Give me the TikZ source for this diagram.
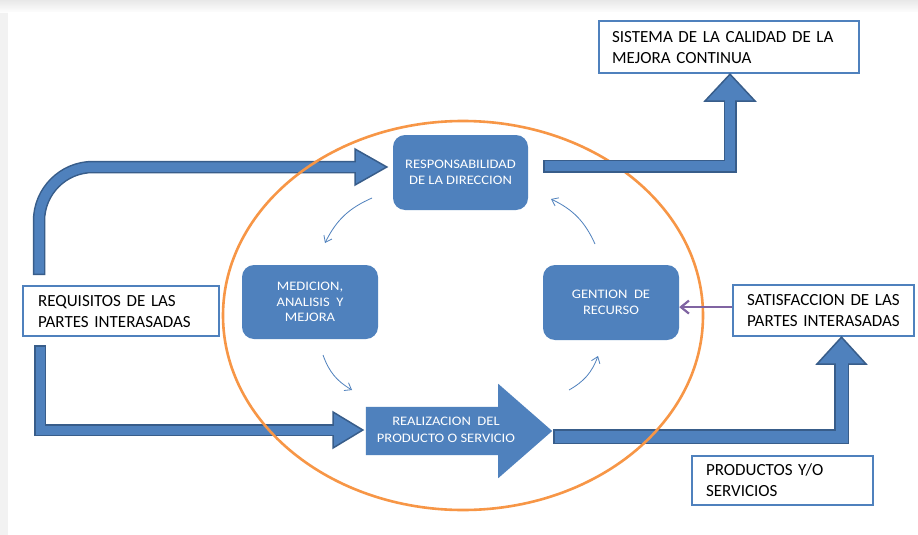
\documentclass[tikz,border=0pt]{standalone}
\usepackage{fontspec}
\setmainfont{Carlito}
\newfontfamily\widefont[FakeStretch=1.12]{Carlito}
\usetikzlibrary{calc,arrows.meta}

\definecolor{accent}{HTML}{4F81BD}
\definecolor{accentdark}{HTML}{385D8A}
\definecolor{ringorange}{HTML}{F79646}
\definecolor{linkpurple}{HTML}{8064A2}

\tikzset{
  stage/.style={fill=accent, rounded corners=12pt, text=white, align=center,
    font=\widefont\fontsize{13}{15.5}\selectfont, inner sep=0pt},
  stagetext/.style={text=white, align=center,
    font=\widefont\fontsize{13}{17}\selectfont, inner sep=0pt},
  tbox/.style={draw=accent, line width=2.2pt, fill=white, align=left,
    anchor=north west, inner ysep=0pt, font=\fontsize{17}{21}\selectfont},
  shaftdark/.style={draw=accentdark, line width=#1},
  shaftlight/.style={draw=accent, line width=#1},
  headtri/.style={fill=accent, draw=accentdark, line width=1.5pt, line join=miter},
  cycle arrow/.style={draw=accent, line width=0.8pt,
    -{Straight Barb[length=6pt,width=9pt]}, bend right=20},
  feedback/.style={draw=linkpurple, line width=2.2pt,
    -{Straight Barb[length=8pt,width=13pt]}},
  ring/.style={draw=ringorange, line width=2.6pt}
}

\begin{document}
\begin{tikzpicture}[x=1pt,y=-1pt]
\useasboundingbox (0,0) rectangle (918,535);

% page with a soft shadow along the top and left edges
\fill[black!5] (0,0) rectangle (918,535);
\shade[top color=black!9, bottom color=white] (0,0) rectangle (918,13);
\fill[white] (8,12) rectangle (918,535);

% process stages
\node[stage, minimum width=135pt, minimum height=75pt] (resp) at (460.5,172.5)
  {RESPONSABILIDAD\\DE LA DIRECCION};
\node[stage, minimum width=136pt, minimum height=74pt] (med) at (310,302)
  {MEDICION,\\ANALISIS\ \ Y\\MEJORA};
\node[stage, minimum width=136pt, minimum height=75pt] (gen) at (611,302.5)
  {GENTION\ \ DE\\RECURSO};

% product realisation as a block arrow
\node[minimum width=132pt, minimum height=48pt, inner sep=0pt] (real) at (432,431) {};
\fill[accent] (real.north west) -- (real.north east) -- ($(real.north east)+(0,-23)$)
  -- ($(real.east)+(54,0)$) -- ($(real.south east)+(0,23)$) -- (real.south east)
  -- (real.south west) -- cycle;
\node[stagetext] (realtxt) at (446,430) {REALIZACION\ \ DEL\\PRODUCTO O SERVICIO};

% text boxes
\node[tbox, inner xsep=13pt, text width=234pt, minimum height=52pt] (sis) at (598,20)
  {SISTEMA DE LA CALIDAD DE LA\\MEJORA CONTINUA};
\node[tbox, inner xsep=15pt, text width=166pt, minimum height=50pt] (req) at (22,285)
  {REQUISITOS DE LAS\\PARTES INTERASADAS};
\node[tbox, inner xsep=14pt, text width=153pt, minimum height=51pt] (sat) at (732,284)
  {SATISFACCION DE LAS\\PARTES INTERASADAS};
\node[tbox, inner xsep=14pt, text width=153pt, minimum height=49pt] (prod) at (691,455)
  {PRODUCTOS Y/O\\SERVICIOS};

% requirements -> management responsibility (rounded block arrow)
\coordinate (reqtop) at ($(req.north west)+(17,-10)$);
\coordinate (resptip) at ($(resp.west)+(-6,-5.5)$);
\draw[shaftdark=12.5pt, rounded corners=54pt] (reqtop) |- (356,167);
\filldraw[headtri] (355,149) -- (resptip) -- (355,185) -- cycle;
\draw[shaftlight=9.5pt, rounded corners=54pt] ($(reqtop)+(0,-1.5)$) |- (358,167);

% requirements -> product realisation
\coordinate (reqbot) at ($(req.south west)+(18,8)$);
\coordinate (realin) at ($(real.west)+(-3,-1)$);
\draw[shaftdark=12pt] (reqbot) |- (334,430);
\filldraw[headtri] (333,412) -- (realin) -- (333,448) -- cycle;
\draw[shaftlight=9pt] ($(reqbot)+(0,1.5)$) |- (336,430);

% product realisation -> customer satisfaction
\coordinate (realtip) at ($(real.east)+(55,5.5)$);
\coordinate (satin) at (sat.south -| 841.5,0);
\draw[shaftdark=15pt] (realtip) -| (841.5,364);
\filldraw[headtri] (817,364) -- (satin) -- (866,364) -- cycle;
\draw[shaftlight=12pt] ($(realtip)+(1.5,0)$) -| (841.5,361);

% quality management ring
\draw[ring] (463,315.5) ellipse [x radius=240, y radius=194.5];

% management responsibility -> continual improvement system
\coordinate (respout) at ($(resp.east)+(15,-6.5)$);
\coordinate (sisin) at (sis.south -| 730,0);
\draw[shaftdark=13pt] (respout) -| (730,101);
\filldraw[headtri] (705,101) -- (sisin) -- (755,101) -- cycle;
\draw[shaftlight=10pt] ($(respout)+(1.5,0)$) -| (730,98);

% satisfaction feeds back into resource management
\coordinate (fbstart) at ($(sat.west)+(0,-3.5)$);
\draw[feedback] (fbstart) -- (fbstart -| gen.east);

% improvement cycle between the stages
\coordinate (c1s) at (372,198);  \coordinate (c1e) at (325,243);
\coordinate (c2s) at (323,355);  \coordinate (c2e) at (352,390);
\coordinate (c3s) at (569,390);  \coordinate (c3e) at (598,356);
\coordinate (c4s) at (595,244);  \coordinate (c4e) at (551,199);
\draw[cycle arrow] (c1s) to (c1e);
\draw[cycle arrow] (c2s) to (c2e);
\draw[cycle arrow] (c3s) to (c3e);
\draw[cycle arrow] (c4s) to (c4e);
\end{tikzpicture}
\end{document}
